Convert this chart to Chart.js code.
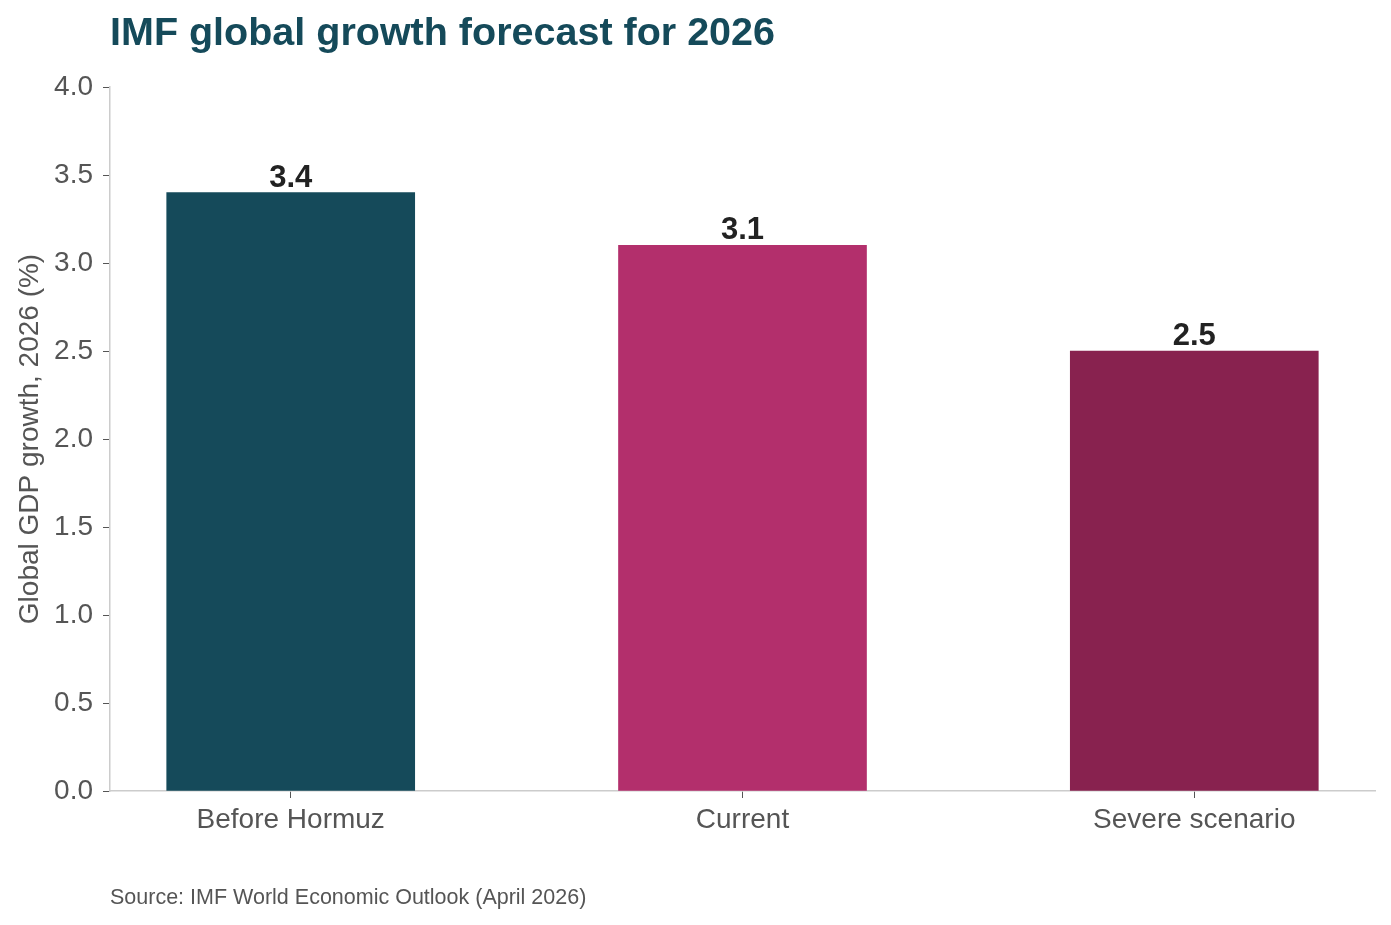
<!DOCTYPE html>
<html>
<head>
<meta charset="utf-8">
<script src="https://cdn.jsdelivr.net/npm/chart.js@4.4.1/dist/chart.umd.min.js"></script>
<style>
  body { margin: 0; background: #fff; }
  #wrap { position: relative; width: 1391px; height: 925px; }
  #title { position: absolute; left: 110px; top: 9px; font-family: "Liberation Sans", Arial, sans-serif; font-weight: bold; font-size: 39.5px; color: #154a5a; white-space: nowrap; }
  #source { position: absolute; left: 110px; top: 885px; font-family: "Liberation Sans", Arial, sans-serif; font-size: 21.5px; color: #555; }
</style>
</head>
<body>
<div id="wrap">
  <canvas id="chart" width="1391" height="925"></canvas>
  <div id="title">IMF global growth forecast for 2026</div>
  <div id="source">Source: IMF World Economic Outlook (April 2026)</div>
</div>
<script>
// data
var categories = ['Before Hormuz', 'Current', 'Severe scenario'];
var growth = [3.4, 3.1, 2.5];
var barColors = ['#154a5a', '#b32f6c', '#88224f'];
var yTicks = [0, 0.5, 1.0, 1.5, 2.0, 2.5, 3.0, 3.5, 4.0];

var points = growth.map(function (v, i) { return { x: i, y: v }; });

// value labels on top of each bar
var valueLabels = {
  id: 'valueLabels',
  afterDatasetsDraw: function (chart) {
    var ctx = chart.ctx;
    var meta = chart.getDatasetMeta(0);
    ctx.save();
    ctx.font = 'bold 31px "Liberation Sans", Arial, sans-serif';
    ctx.fillStyle = '#222';
    ctx.textAlign = 'center';
    ctx.textBaseline = 'alphabetic';
    meta.data.forEach(function (bar, i) {
      ctx.fillText(growth[i].toFixed(1), bar.x, bar.y - 6);
    });
    ctx.restore();
  }
};

var ctx = document.getElementById('chart').getContext('2d');
var chart = new Chart(ctx, {
  type: 'bar',
  data: {
    datasets: [{
      data: points,
      backgroundColor: barColors,
      borderWidth: 0,
      barThickness: 248
    }]
  },
  options: {
    responsive: false,
    animation: false,
    layout: { padding: { top: 87, right: 16, bottom: 0, left: 0 } },
    plugins: { legend: { display: false }, tooltip: { enabled: false } },
    scales: {
      x: {
        type: 'linear',
        offset: false,
        min: -0.4,
        max: 2.4,
        afterBuildTicks: function (scale) {
          scale.ticks = categories.map(function (c, i) { return { value: i }; });
        },
        afterFit: function (scale) { scale.height = 134; },
        ticks: {
          callback: function (v) { return categories[v]; },
          font: { family: '"Liberation Sans", Arial, sans-serif', size: 28 },
          color: '#555',
          padding: 5,
          maxRotation: 0
        },
        grid: { offset: false, drawOnChartArea: false, tickLength: 7, tickColor: '#555' },
        border: { color: '#ccc', width: 1.5 }
      },
      y: {
        min: 0,
        max: 4,
        afterBuildTicks: function (scale) {
          scale.ticks = yTicks.map(function (v) { return { value: v }; });
        },
        afterFit: function (scale) { scale.width = 110; },
        ticks: {
          callback: function (v) { return v.toFixed(1); },
          font: { family: '"Liberation Sans", Arial, sans-serif', size: 28 },
          color: '#555',
          padding: 10
        },
        grid: { drawOnChartArea: false, tickLength: 7, tickColor: '#555' },
        border: { color: '#ccc', width: 1.5 },
        title: {
          display: true,
          text: 'Global GDP growth, 2026 (%)',
          font: { family: '"Liberation Sans", Arial, sans-serif', size: 28 },
          color: '#555',
          padding: { top: 13, bottom: 0 }
        }
      }
    }
  },
  plugins: [valueLabels]
});
</script>
</body>
</html>
